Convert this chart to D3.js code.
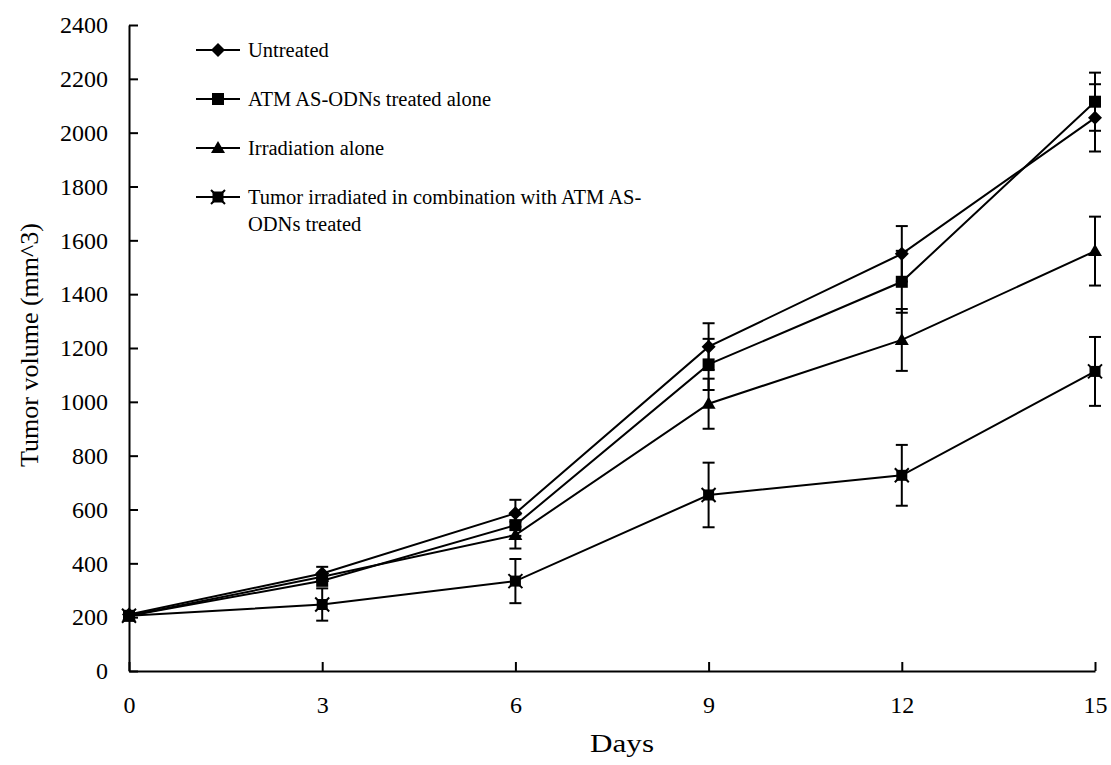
<!DOCTYPE html>
<html><head><meta charset="utf-8">
<script src="https://cdn.jsdelivr.net/npm/d3@7"></script>
<style>body{margin:0;background:#fff}svg{display:block}text{font-family:"Liberation Serif","Times New Roman",serif;fill:#000}</style>
</head><body><svg id="c" width="1111" height="765"></svg>
<script>
const days = [0, 3, 6, 9, 12, 15];
const seriesNames = ["Untreated", "ATM AS-ODNs treated alone", "Irradiation alone", "Tumor irradiated in combination with ATM AS-ODNs treated"];
const untreated = [210, 362, 586, 1205, 1550, 2055];
const untreatedErr = [0, 25, 50, 87, 103, 125];
const atmAlone = [205, 335, 542, 1139, 1446, 2115];
const atmAloneErr = [0, 0, 40, 95, 115, 108];
const irradiation = [205, 350, 505, 993, 1230, 1560];
const irradiationErr = [0, 0, 50, 93, 115, 128];
const combo = [205, 247, 334, 654, 727, 1113];
const comboErr = [0, 60, 82, 120, 113, 128];
const yTicks = [0, 200, 400, 600, 800, 1000, 1200, 1400, 1600, 1800, 2000, 2200, 2400];
const xTicks = [0, 3, 6, 9, 12, 15];
const markers = ["diamond", "square", "triangle", "xsquare"];

const svg = d3.select("#c");
const x = d3.scaleLinear().domain([0, 15]).range([129, 1095]);
const y = d3.scaleLinear().domain([0, 2400]).range([671, 25]);

// axes
const yAx = svg.append("g").attr("transform", "translate(129,0)")
  .call(d3.axisLeft(y).tickValues(yTicks).tickFormat(d3.format("d")).tickSizeInner(-9).tickSizeOuter(0).tickPadding(21));
const xAx = svg.append("g").attr("transform", "translate(0,671)")
  .call(d3.axisBottom(x).tickValues(xTicks).tickSizeInner(-9).tickSizeOuter(0).tickPadding(25));
[yAx, xAx].forEach(g => {
  g.select(".domain").attr("stroke", "#000").attr("stroke-width", 2);
  g.selectAll(".tick line").attr("stroke", "#000").attr("stroke-width", 2);
  g.selectAll(".tick text").attr("font-size", 24).attr("font-family", "Liberation Serif");
});

svg.append("text").attr("x", 622).attr("y", 752).attr("text-anchor", "middle").attr("font-size", 26)
  .attr("textLength", 64).attr("lengthAdjust", "spacingAndGlyphs").text("Days");
svg.append("text").attr("transform", "translate(38,345) rotate(-90)").attr("text-anchor", "middle").attr("font-size", 26).text("Tumor volume (mm^3)");

const data = [
  {v: untreated, e: untreatedErr},
  {v: atmAlone, e: atmAloneErr},
  {v: irradiation, e: irradiationErr},
  {v: combo, e: comboErr}
];

function drawMarker(g, type, cx, cy) {
  if (type === "diamond") {
    g.append("path").attr("d", `M${cx},${cy-7}L${cx+7},${cy}L${cx},${cy+7}L${cx-7},${cy}Z`).attr("fill", "#000");
  } else if (type === "square") {
    g.append("rect").attr("x", cx-6).attr("y", cy-6).attr("width", 12).attr("height", 12).attr("fill", "#000");
  } else if (type === "triangle") {
    g.append("path").attr("d", `M${cx},${cy-7}L${cx+7},${cy+5}L${cx-7},${cy+5}Z`).attr("fill", "#000");
  } else {
    g.append("rect").attr("x", cx-5.5).attr("y", cy-5.5).attr("width", 11).attr("height", 11).attr("fill", "#000");
    g.append("path").attr("d", `M${cx-7},${cy-7}L${cx+7},${cy+7}M${cx+7},${cy-7}L${cx-7},${cy+7}`).attr("stroke", "#000").attr("stroke-width", 2);
  }
}

const line = d3.line().x((d, i) => x(days[i])).y(d => y(d));
data.forEach((s, k) => {
  svg.append("path").attr("d", line(s.v)).attr("fill", "none").attr("stroke", "#000").attr("stroke-width", 2);
});
data.forEach((s, k) => {
  const g = svg.append("g");
  s.v.forEach((v, i) => drawMarker(g, markers[k], x(days[i]), y(v)));
});
data.forEach((s, k) => {
  const g = svg.append("g").attr("stroke", "#000").attr("stroke-width", 2);
  s.v.forEach((v, i) => {
    const e = s.e[i];
    if (!e) return;
    const cx = x(days[i]);
    g.append("line").attr("x1", cx).attr("x2", cx).attr("y1", y(v - e)).attr("y2", y(v + e));
    [v - e, v + e].forEach(t => g.append("line").attr("x1", cx - 6).attr("x2", cx + 6).attr("y1", y(t)).attr("y2", y(t)));
  });
});

// legend
const legY = [50, 99, 148, 197];
const lg = svg.append("g");
seriesNames.forEach((n, k) => {
  const ly = legY[k];
  lg.append("line").attr("x1", 196).attr("x2", 240).attr("y1", ly).attr("y2", ly).attr("stroke", "#000").attr("stroke-width", 2);
  drawMarker(lg, markers[k], 218, ly);
  if (k === 3) {
    lg.append("text").attr("x", 248).attr("y", ly + 7).attr("font-size", 20.5).text("Tumor irradiated in combination with ATM AS-");
    lg.append("text").attr("x", 248).attr("y", ly + 34).attr("font-size", 20.5).text("ODNs treated");
  } else {
    lg.append("text").attr("x", 248).attr("y", ly + 7).attr("font-size", 20.5).text(n);
  }
});
</script></body></html>
